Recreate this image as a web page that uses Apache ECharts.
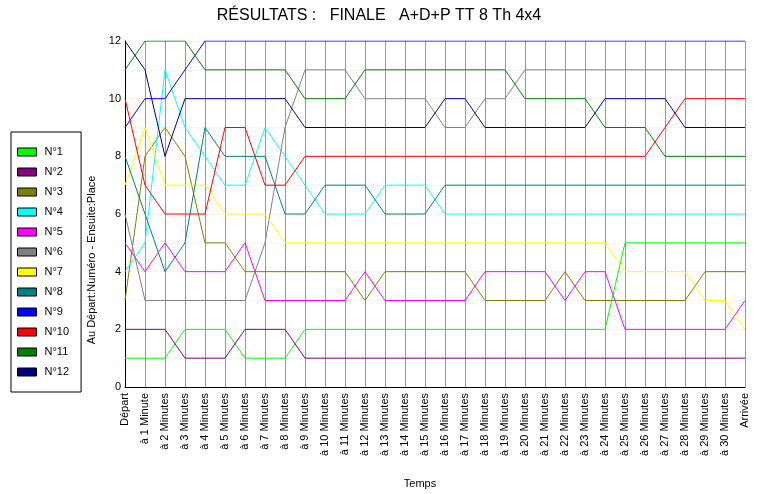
<!DOCTYPE html>
<html>
<head>
<meta charset="utf-8">
<script src="https://cdn.jsdelivr.net/npm/echarts@6/dist/echarts.min.js"></script>
<style>html,body{margin:0;padding:0;background:#fff;}#c{width:758px;height:494px;}</style>
</head>
<body>
<div id="c"></div>
<script>
var categories = ['Départ','à 1 Minute','à 2 Minutes','à 3 Minutes','à 4 Minutes','à 5 Minutes','à 6 Minutes','à 7 Minutes','à 8 Minutes','à 9 Minutes','à 10 Minutes','à 11 Minutes','à 12 Minutes','à 13 Minutes','à 14 Minutes','à 15 Minutes','à 16 Minutes','à 17 Minutes','à 18 Minutes','à 19 Minutes','à 20 Minutes','à 21 Minutes','à 22 Minutes','à 23 Minutes','à 24 Minutes','à 25 Minutes','à 26 Minutes','à 27 Minutes','à 28 Minutes','à 29 Minutes','à 30 Minutes','Arrivée'];
var seriesNames = ['N°1','N°2','N°3','N°4','N°5','N°6','N°7','N°8','N°9','N°10','N°11','N°12'];
var yTicks = [0,2,4,6,8,10,12];

var n1  = [1,1,1,2,2,2,1,1,1,2, 2,2,2,2,2,2,2,2,2,2, 2,2,2,2,2,5,5,5,5,5, 5,5];
var n2  = [2,2,2,1,1,1,2,2,2,1, 1,1,1,1,1,1,1,1,1,1, 1,1,1,1,1,1,1,1,1,1, 1,1];
var n3  = [3,8,9,8,5,5,4,4,4,4, 4,4,3,4,4,4,4,4,3,3, 3,3,4,3,3,3,3,3,3,4, 4,4];
var n4  = [4,5,11,9,8,7,7,9,8,7, 6,6,6,7,7,7,6,6,6,6, 6,6,6,6,6,6,6,6,6,6, 6,6];
var n5  = [5,4,5,4,4,4,5,3,3,3, 3,3,4,3,3,3,3,3,4,4, 4,4,3,4,4,2,2,2,2,2, 2,3];
var n6  = [6,3,3,3,3,3,3,5,9,11, 11,11,10,10,10,10,9,9,10,10, 11,11,11,11,11,11,11,11,11,11, 11,11];
var n7  = [7,9,7,7,7,6,6,6,5,5, 5,5,5,5,5,5,5,5,5,5, 5,5,5,5,5,4,4,4,4,3, 3,2];
var n8  = [8,6,4,5,9,8,8,8,6,6, 7,7,7,6,6,6,7,7,7,7, 7,7,7,7,7,7,7,7,7,7, 7,7];
var n9  = [9,10,10,11,12,12,12,12,12,12, 12,12,12,12,12,12,12,12,12,12, 12,12,12,12,12,12,12,12,12,12, 12,12];
var n10 = [10,7,6,6,6,9,9,7,7,8, 8,8,8,8,8,8,8,8,8,8, 8,8,8,8,8,8,8,9,10,10, 10,10];
var n11 = [11,12,12,12,11,11,11,11,11,10, 10,10,11,11,11,11,11,11,11,11, 10,10,10,10,9,9,9,8,8,8, 8,8];
var n12 = [12,11,8,10,10,10,10,10,10,9, 9,9,9,9,9,9,10,10,9,9, 9,9,9,9,10,10,10,10,9,9, 9,9];

var allData = [n1,n2,n3,n4,n5,n6,n7,n8,n9,n10,n11,n12];
var colors = ['#00ff00','#800080','#808000','#00ffff','#ff00ff','#808080','#ffff00','#008080','#0000ff','#ff0000','#008000','#000080'];
var FONT = 'Liberation Sans, Arial, sans-serif';

var chart = echarts.init(document.getElementById('c'), null, {renderer:'canvas'});
var series = allData.map(function(d, i){
  return {
    name: seriesNames[i], type: 'line', data: d,
    symbol: 'none', animation: false,
    lineStyle: {width: 1, color: colors[i]},
    itemStyle: {color: colors[i]}
  };
});
chart.setOption({
  animation: false,
  backgroundColor: '#fff',
  color: colors,
  title: {
    text: 'RÉSULTATS :   FINALE   A+D+P TT 8 Th 4x4',
    left: 'center', top: 3,
    textStyle: {fontFamily: FONT, fontSize: 16, fontWeight: 'normal', color: '#000'}
  },
  legend: {
    orient: 'vertical', left: 11, top: 132,
    icon: 'rect', itemWidth: 19, itemHeight: 8, itemGap: 8,
    padding: [14, 12, 14, 6],
    backgroundColor: '#fff', borderColor: '#000', borderWidth: 1, borderRadius: 0,
    itemStyle: {borderColor: '#000', borderWidth: 1},
    textStyle: {fontFamily: FONT, fontSize: 11, color: '#000', lineHeight: 12, padding: [0,0,0,3]},
    selectedMode: false,
    data: seriesNames
  },
  grid: {left: 125, right: 13, top: 41, bottom: 102, containLabel: false},
  xAxis: {
    type: 'category', data: categories, boundaryGap: false,
    name: 'Temps', nameLocation: 'middle', nameGap: 91,
    nameTextStyle: {fontFamily: FONT, fontSize: 11, color: '#000', padding: [0, 30, 0, 0]},
    axisLine: {show: true, lineStyle: {color: '#000', width: 1}},
    axisTick: {show: false},
    axisLabel: {rotate: 90, interval: 0, margin: 6, fontFamily: FONT, fontSize: 11, color: '#000'},
    splitLine: {show: true, interval: 0, lineStyle: {color: '#999', width: 1}}
  },
  yAxis: {
    type: 'value', min: yTicks[0], max: yTicks[yTicks.length-1], interval: 2,
    name: 'Au Départ:Numéro - Ensuite:Place', nameLocation: 'middle', nameGap: 27,
    nameTextStyle: {fontFamily: FONT, fontSize: 11, color: '#000', padding: [0, 92, 0, 0]},
    axisLine: {show: true, lineStyle: {color: '#000', width: 1}},
    axisTick: {show: false},
    axisLabel: {margin: 4, fontFamily: FONT, fontSize: 11, color: '#000', verticalAlign: 'middle'},
    splitLine: {show: true, lineStyle: {color: '#ececec', type: 'dotted', width: 1}},
    minorTick: {show: false, splitNumber: 2},
    minorSplitLine: {show: true, lineStyle: {color: '#ececec', type: 'dotted', width: 1}}
  },
  series: series
});
</script>
</body>
</html>
